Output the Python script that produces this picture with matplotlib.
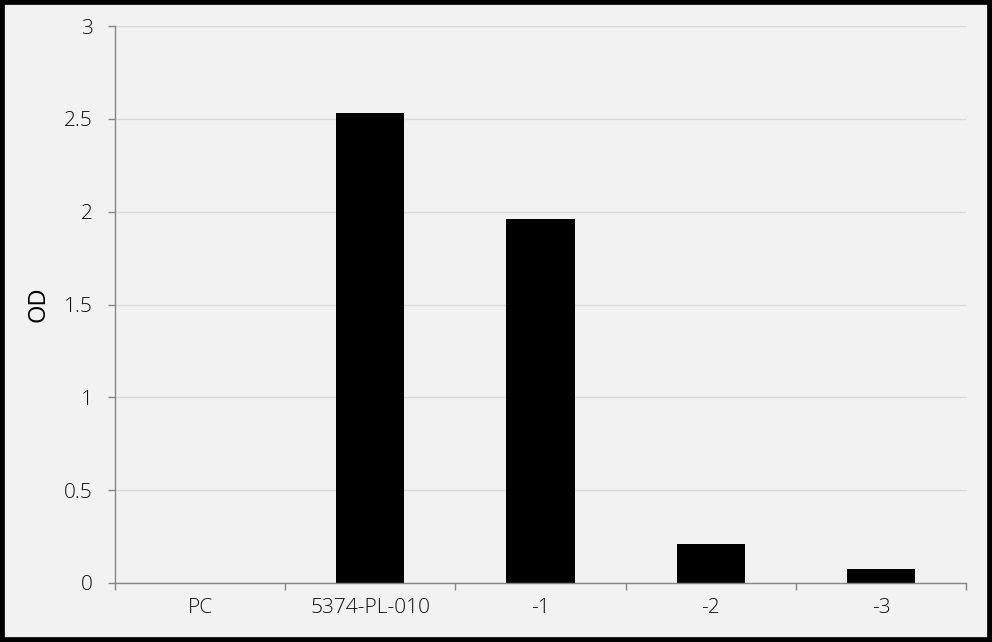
import matplotlib
matplotlib.use("Agg")
import matplotlib.pyplot as plt
import numpy as np
from matplotlib.patches import Rectangle

categories = ["PC", "5374-PL-010", "-1", "-2", "-3"]
values = [0.0, 2.53, 1.96, 0.21, 0.075]
yticks = [0, 0.5, 1, 1.5, 2, 2.5, 3]
ytick_labels = ["0", "0.5", "1", "1.5", "2", "2.5", "3"]

plt.rcParams['font.family'] = ['Open Sans', 'DejaVu Sans']

fig = plt.figure(figsize=(9.92, 6.42), dpi=100)
bg = "#f2f2f2"
fig.patch.set_facecolor(bg)
ax = fig.add_axes([115/992, 59/642, 851/992, 557/642])
ax.set_facecolor(bg)

x = np.arange(len(categories))
ax.bar(x, values, width=0.4, color="black", zorder=3)

ax.set_xlim(-0.5, len(categories) - 0.5)
ax.set_ylim(0, 3)
ax.set_yticks(yticks)
ax.set_yticklabels(ytick_labels)
ax.set_xticks(x)
ax.set_xticklabels(categories)
ax.set_xticks(np.arange(-0.5, len(categories)), minor=True)

txtc = "#0d0d0d"
ax.tick_params(axis='x', which='major', length=0, pad=11, labelsize=15, labelcolor=txtc)
ax.tick_params(axis='x', which='minor', length=5, width=1, color="#868686")
ax.tick_params(axis='y', length=5, width=1, color="#868686", pad=11, labelsize=15, labelcolor=txtc)
for lab in ax.get_xticklabels() + ax.get_yticklabels():
    lab.set_fontweight(300)

ax.grid(axis='y', color="#d9d9d9", linewidth=1, zorder=0)
ax.set_axisbelow(True)
for s in ['top', 'right']:
    ax.spines[s].set_visible(False)
for s in ['left', 'bottom']:
    ax.spines[s].set_color("#868686")
    ax.spines[s].set_linewidth(1)
    ax.spines[s].set_zorder(4)

ax.set_ylabel("OD", fontsize=17, color="black", labelpad=10)

fig.add_artist(Rectangle((0, 0), 1, 1, transform=fig.transFigure, fill=False,
                         edgecolor="black", linewidth=7, clip_on=False))

fig.savefig("out.png", dpi=100, facecolor=bg)
